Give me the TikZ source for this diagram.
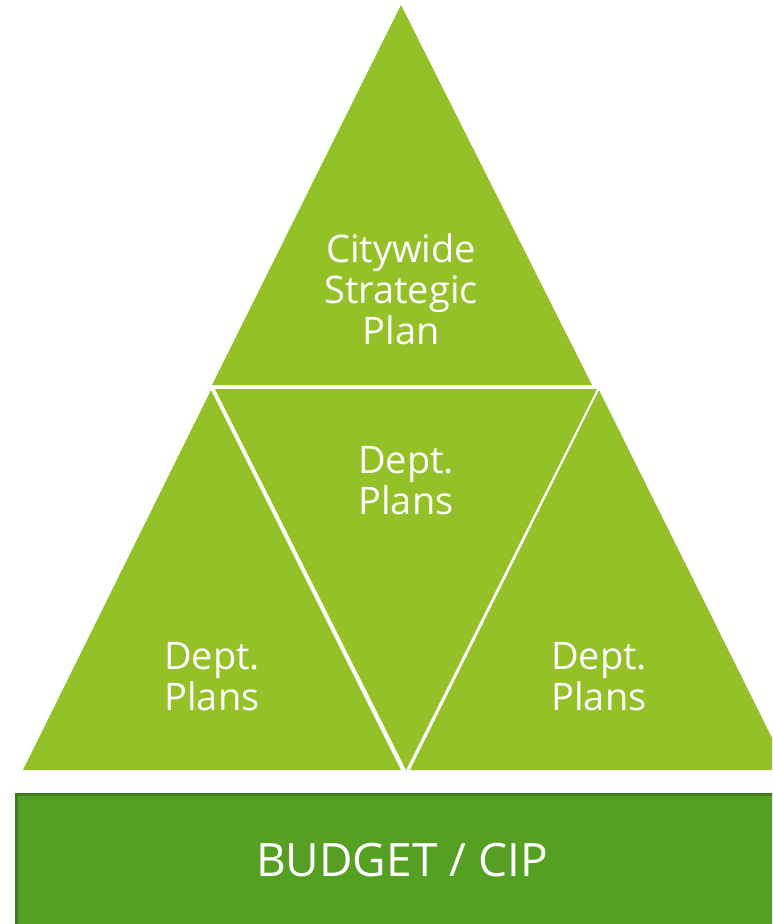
\documentclass[tikz,border=0pt]{standalone}
\usepackage{fontspec}
\setmainfont{Open Sans}
\usetikzlibrary{positioning}
\definecolor{leafGreen}{RGB}{147,193,39}
\definecolor{budgetGreen}{RGB}{85,160,35}
\definecolor{budgetEdge}{RGB}{64,124,28}
\tikzset{
    piece/.style={
        fill=leafGreen,
        draw=none
    },
    planText/.style={
        text=white,
        align=center,
        inner sep=0pt,
        font={\fontsize{38pt}{41pt}\selectfont}
    },
    budgetBox/.style={
        fill=budgetGreen,
        draw=budgetEdge,
        line width=3pt
    }
}
\begin{document}
\begin{tikzpicture}[x=1pt, y=-1pt]
\useasboundingbox (0,0) rectangle (772,924);
\clip (0,0) rectangle (772,924);

% top triangle
\coordinate (T1) at (401,5);
\filldraw[piece] (T1) -- (592,385) -- (212,385) -- cycle;
\node[planText] (city) at (401,289) {Citywide\\Strategic\\Plan};

% middle (upside down)
\coordinate (M1) at (406,770);
\filldraw[piece] (215,389) -- (597,389) -- (M1) -- cycle;
\node[planText] (deptM) at (406,481) {Dept.\\Plans};

% left and right
\coordinate (L1) at (211,390);
\coordinate (R1) at (599,390);
\filldraw[piece] (L1) -- (401,770) -- (23,770) -- cycle;
\filldraw[piece] (R1) -- (788,770) -- (410,770) -- cycle;
\node[planText] (deptL) at (212,677) {Dept.\\Plans};
\node[planText] (deptR) at (599,677) {Dept.\\Plans};

% budget
\filldraw[budgetBox] (16.5,794.5) rectangle (790,940);
\node[text=white, font={\fontsize{46pt}{50pt}\selectfont}] (budget) at (402,860) {BUDGET / CIP};
\end{tikzpicture}
\end{document}
